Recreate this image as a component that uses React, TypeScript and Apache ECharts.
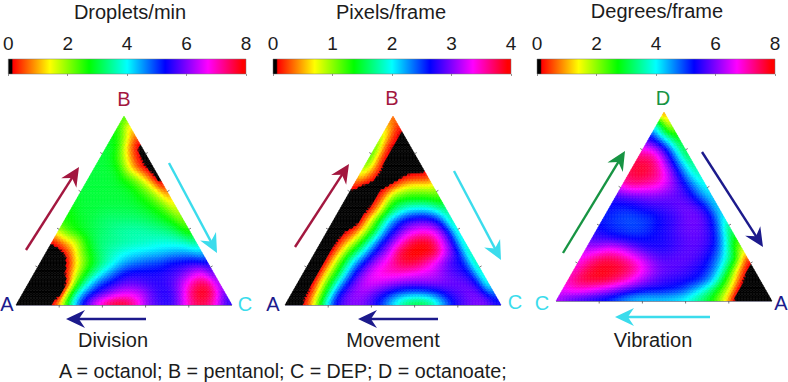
import React, { useEffect, useRef } from "react";
import * as echarts from "echarts";

const divisionValues: number[][] = [
  [2.6],
  [2.8, 1.0],
  [2.9, 2.1, 0.5],
  [3, 2.7, 0.7, 0],
  [3, 2.9, 1.8, 0.3, 0],
  [3, 3, 2.8, 1.3, 0.2, 0],
  [3, 3, 3, 2.7, 2.1, 1, 0],
  [3, 3, 3, 3, 2.9, 2.4, 1.6, 0.3],
  [2.9, 3, 3, 3, 3, 2.9, 2.6, 2, 1.0],
  [2.7, 3, 3, 3.1, 3.1, 3.1, 3, 2.8, 2.4, 1.5],
  [2.6, 2.8, 3, 3.2, 3.3, 3.3, 3.3, 3.2, 3, 2.7, 2],
  [1.7, 2.5, 2.9, 3.1, 3.3, 3.5, 3.6, 3.6, 3.5, 3.4, 3.1, 2.4],
  [0.1, 0.9, 1.6, 2.8, 3.3, 3.4, 3.5, 3.6, 3.7, 3.8, 3.8, 3.7, 3.3],
  [0, 0, 0.6, 2.1, 3, 3.5, 3.8, 4, 4.1, 4.2, 4.3, 4.4, 4.4, 4.1],
  [0, 0, 0, 1.2, 2.4, 3.2, 3.8, 4.4, 4.7, 4.9, 5, 5.3, 5.4, 5.5, 5.2],
  [0, 0, 0, 0.6, 2.3, 3.4, 4.3, 5, 5.4, 5.4, 5.4, 5.5, 5.7, 6.2, 6.7, 5.6],
  [0, 0, 0, 0, 2.3, 3.9, 5, 5.4, 5.8, 5.8, 5.6, 5.5, 5.7, 6.5, 7.5, 7.6, 6],
  [0, 0, 0, 0, 2.6, 4.5, 5.4, 5.9, 6.5, 6.7, 6.4, 5.7, 5.4, 5.9, 7.3, 7.9, 7.4, 5.6],
  [0, 0, 0, 0.1, 2.3, 4.6, 6, 7.2, 8, 8, 7.2, 6, 5.6, 5.5, 6.5, 7.5, 7.4, 6.2, 5.3],
];

const movementValues: number[][] = [
  [0.3],
  [0.7, 0.1],
  [1.1, 0.15, 0],
  [1.4, 0.1, 0, 0],
  [1.4, 0.2, 0, 0, 0],
  [1.1, 0.4, 0, 0, 0, 0],
  [0.6, 0.2, 0, 0, 0.1, 0.2, 0.2],
  [0.1, 0, 0, 0.1, 0.7, 0.95, 0.95, 0.9],
  [0, 0, 0, 0.2, 1.25, 1.4, 1.4, 1.4, 1.2],
  [0, 0, 0, 0.3, 1.3, 1.8, 2.1, 2.15, 2, 1.6],
  [0, 0, 0, 0.65, 1.55, 2.3, 2.7, 2.85, 2.85, 2.5, 1.6],
  [0, 0, 0.05, 0.7, 1.5, 2.4, 2.85, 3.25, 3.4, 3.3, 2.75, 1.7],
  [0, 0, 0.35, 1, 1.8, 2.55, 3, 3.6, 3.9, 3.9, 3.4, 2.7, 1.7],
  [0, 0, 0.5, 1.35, 2, 2.65, 3.1, 3.8, 4, 4, 3.9, 3.2, 2.65, 1.6],
  [0, 0, 0.65, 1.55, 2.3, 2.85, 3.3, 3.6, 3.85, 3.8, 3.5, 3.1, 2.75, 2.6, 1.6],
  [0, 0, 0.7, 1.5, 2.4, 3, 3.4, 3.5, 3.5, 3.4, 3.3, 3.2, 2.95, 2.8, 2.6, 1.7],
  [0, 0, 0.65, 1.6, 2.5, 3.05, 3.3, 3.2, 3.05, 2.95, 2.95, 3, 3, 2.95, 2.95, 2.75, 1.7],
  [0, 0, 0.45, 1.6, 2.65, 3.05, 3.1, 2.85, 2.6, 2.35, 2.25, 2.25, 2.4, 2.7, 2.85, 3, 2.9, 2.3],
  [0, 0, 0.3, 1.5, 2.6, 2.95, 3, 2.85, 2.5, 2, 1.5, 1.3, 1.45, 2, 2.6, 2.85, 3, 3, 2.7],
];

const vibrationValues: number[][] = [
  [0.2],
  [3.3, 1],
  [4.9, 3.3, 2.2],
  [6, 5.4, 4.2, 2.7],
  [7.2, 7.2, 6, 4.4, 2.8],
  [7.6, 7.7, 7.2, 5.8, 4.4, 3.2],
  [7.5, 7.7, 7.5, 6.9, 5.7, 4.4, 3.5],
  [7, 7.3, 7.1, 6.9, 6.3, 5.6, 4.6, 3.8],
  [5.6, 5.8, 5.9, 6, 5.9, 5.8, 5.6, 4.8, 4],
  [5.3, 5.2, 5.3, 5.5, 5.6, 5.7, 5.9, 5.8, 5.2, 4],
  [5.2, 5, 4.9, 5, 5.1, 5.4, 5.6, 5.9, 5.9, 5.3, 3.8],
  [5.3, 5.1, 5, 4.9, 5, 5.3, 5.5, 5.8, 5.9, 5.7, 4.9, 3],
  [5.6, 5.5, 5.3, 5.2, 5.2, 5.3, 5.4, 5.6, 5.8, 5.8, 5.5, 4.3, 2.4],
  [6.2, 6.3, 6.6, 6.4, 5.9, 5.5, 5.4, 5.5, 5.7, 5.8, 5.6, 5, 3.4, 1.5],
  [6.6, 7.2, 7.6, 7.5, 7.1, 6.6, 6, 5.7, 5.8, 5.8, 5.6, 5.1, 4.1, 2.8, 0.1],
  [6.8, 7.5, 7.8, 7.8, 7.7, 7.3, 6.6, 6, 5.8, 5.7, 5.5, 5.2, 4.4, 2.8, 0.5, 0],
  [7, 7.6, 7.8, 7.8, 7.5, 7, 6.4, 5.9, 5.6, 5.5, 5.4, 5.2, 4.5, 2.9, 1.1, 0, 0],
  [6.7, 6.9, 6.8, 6.5, 6.2, 5.8, 5.5, 5.3, 5.3, 5.2, 5, 4.4, 3.7, 2.7, 1.5, 0, 0, 0],
  [6.3, 5.6, 5.3, 5.1, 4.9, 4.6, 4.2, 4, 4, 4, 3.9, 3.7, 3.2, 2.6, 1.5, 0, 0, 0, 0],
];

const tickFractions = [0.2, 0.4, 0.6, 0.8];
const barTitles = ["Droplets/min", "Pixels/frame", "Degrees/frame"];
const plotTitles = ["Division", "Movement", "Vibration"];
const footnote = "A = octanol; B = pentanol; C = DEP; D = octanoate;";
const barMaxima = [8, 4, 8];
const barIntervals = [2, 1, 2];

const CRIMSON = "#a3173f";
const CYAN = "#3bdcec";
const NAVY = "#1c1a8c";
const GREEN = "#179443";
const INK = "#1c1c1c";
const FONT = "'Liberation Sans', Arial, sans-serif";

const colorStops: [number, number[]][] = [
  [0, [0, 0, 0]],
  [0.014, [0, 0, 0]],
  [0.02, [255, 0, 0]],
  [0.175, [255, 255, 0]],
  [0.34, [0, 255, 0]],
  [0.5, [0, 255, 255]],
  [0.66, [0, 0, 255]],
  [0.84, [255, 0, 255]],
  [0.985, [255, 0, 0]],
  [1, [255, 0, 0]],
];

function colorAt(t: number): string {
  const v = Math.min(1, Math.max(0, t));
  for (let k = 1; k < colorStops.length; k++) {
    const [t1, c1] = colorStops[k];
    const [t0, c0] = colorStops[k - 1];
    if (v <= t1) {
      const f = t1 === t0 ? 0 : (v - t0) / (t1 - t0);
      return `rgb(${Math.round(c0[0] + (c1[0] - c0[0]) * f)},${Math.round(c0[1] + (c1[1] - c0[1]) * f)},${Math.round(c0[2] + (c1[2] - c0[2]) * f)})`;
    }
  }
  return "rgb(255,0,0)";
}

// Shading mesh: the read lattice is refined and softened for display only.
// Off-scale (black) nodes continue the slope below zero, so that the
// black edge stays a smooth curve after softening; they still draw black.
const REFINE = 4;
const PASSES = 5;
function shadedMesh(rows: number[][]): number[][] {
  const n = rows.length - 1;
  const m = n * REFINE;
  const nb = [[-1, -1], [-1, 0], [0, -1], [0, 1], [1, 0], [1, 1]];
  const coarse = rows.map((row, i) =>
    row.map((v, j) => {
      if (v > 0) return v;
      let top = 0;
      for (const [di, dj] of nb) {
        const r = rows[i + di];
        if (r && r[j + dj] !== undefined) top = Math.max(top, r[j + dj]);
      }
      return -0.35 * top;
    })
  );
  let f: number[][] = [];
  for (let i = 0; i <= m; i++) {
    const row: number[] = [];
    const ci = Math.min(n - 1, Math.floor(i / REFINE));
    for (let j = 0; j <= i; j++) {
      const a = i / REFINE - ci;
      const cj = Math.min(ci, Math.floor(j / REFINE));
      const b = j / REFINE - cj;
      let v: number;
      if (b <= a) {
        v = coarse[ci][cj] * (1 - a) + coarse[ci + 1][cj] * (a - b) + coarse[ci + 1][cj + 1] * b;
      } else {
        v = coarse[ci][cj] * (1 - b) + coarse[ci][cj + 1] * (b - a) + coarse[ci + 1][cj + 1] * a;
      }
      row.push(v);
    }
    f.push(row);
  }
  for (let p = 0; p < PASSES; p++) {
    f = f.map((row, i) =>
      row.map((v, j) => {
        let s = v * 2, w = 2;
        for (const [di, dj] of nb) {
          const r = f[i + di];
          if (r && r[j + dj] !== undefined) { s += r[j + dj]; w += 1; }
        }
        return s / w;
      })
    );
  }
  const px = (i: number, j: number) => [(j + (m - i) / 2) / m, 1 - i / m];
  const out: number[][] = [];
  for (let i = 0; i < m; i++) {
    for (let j = 0; j <= i; j++) {
      const a = px(i, j), b = px(i + 1, j), c = px(i + 1, j + 1);
      out.push([a[0], a[1], b[0], b[1], c[0], c[1], (f[i][j] + f[i + 1][j] + f[i + 1][j + 1]) / 3]);
      if (j < i) {
        const d = px(i, j + 1);
        out.push([a[0], a[1], d[0], d[1], c[0], c[1], (f[i][j] + f[i][j + 1] + f[i + 1][j + 1]) / 3]);
      }
    }
  }
  return out;
}

function triangleCell(maxV: number) {
  return (_p: any, api: any) => {
    const a = api.coord([api.value(0), api.value(1)]);
    const b = api.coord([api.value(2), api.value(3)]);
    const c = api.coord([api.value(4), api.value(5)]);
    const col = colorAt(api.value(6) / maxV);
    return {
      type: "polygon",
      shape: { points: [a, b, c] },
      style: { fill: col, stroke: col, lineWidth: 0.5 },
      silent: true,
    };
  };
}

function tickItem(_p: any, api: any) {
  const f = api.value(0);
  const side = api.value(1);
  const pts = [
    [f, 0],
    [f / 2, f],
    [1 - f / 2, f],
  ][side];
  const dirs = [[0, 1], [-0.87, -0.5], [0.87, -0.5]][side];
  const p = api.coord(pts);
  return {
    type: "line",
    shape: { x1: p[0], y1: p[1], x2: p[0] + dirs[0] * 2.5, y2: p[1] + dirs[1] * 2.5 },
    style: { stroke: "#555", lineWidth: 0.8 },
    silent: true,
  };
}

function baseLine(_p: any, api: any) {
  const a = api.coord([0, 0]);
  const b = api.coord([1, 0]);
  return {
    type: "line",
    shape: { x1: a[0], y1: a[1] + 0.5, x2: b[0], y2: b[1] + 0.5 },
    style: { stroke: "#56566e", lineWidth: 0.6 },
    silent: true,
  };
}

function barItem(_p: any, api: any) {
  const a = api.coord([api.value(0), 0]);
  const b = api.coord([api.value(1), 1]);
  return {
    type: "rect",
    shape: { x: a[0], y: b[1], width: b[0] - a[0], height: a[1] - b[1] },
    style: {
      fill: new echarts.graphic.LinearGradient(
        0, 0, 1, 0,
        colorStops.map(([o, c]) => ({ offset: o, color: `rgb(${c.join(",")})` }))
      ),
      stroke: "#777",
      lineWidth: 0.5,
    },
    silent: true,
  };
}

function arrow(x0: number, y0: number, x1: number, y1: number, color: string, len = 19) {
  const d = Math.hypot(x1 - x0, y1 - y0);
  const ux = (x1 - x0) / d, uy = (y1 - y0) / d;
  const nx = -uy, ny = ux;
  const pt = (back: number, off: number) => [x1 - ux * back + nx * off, y1 - uy * back + ny * off];
  return [
    {
      type: "line",
      shape: { x1: x0, y1: y0, x2: x1 - ux * 10, y2: y1 - uy * 10 },
      style: { stroke: color, lineWidth: 2.4 },
      silent: true,
    },
    {
      type: "polygon",
      shape: { points: [pt(0, 0), pt(len, 9), pt(len * 0.68, 0), pt(len, -9)] },
      style: { fill: color },
      silent: true,
    },
  ];
}

function label(text: string, x: number, y: number, color: string, fontSize = 20, align = "center") {
  return {
    type: "text",
    x,
    y,
    silent: true,
    style: { text, fill: color, fontSize, fontFamily: FONT, align, verticalAlign: "middle" },
  };
}

const barLayout = [
  { left: 6, width: 240 },
  { left: 273, width: 238 },
  { left: 537, width: 238 },
];
const triLayout = [
  { left: 16, top: 116 },
  { left: 285, top: 116 },
  { left: 556, top: 112 },
];

export default function App() {
  const ref = useRef<HTMLDivElement>(null);
  useEffect(() => {
    document.body.style.margin = "0";
    const chart = echarts.init(ref.current!, undefined, { renderer: "svg" });
    const grid: any[] = [];
    const xAxis: any[] = [];
    const yAxis: any[] = [];
    const series: any[] = [];

    barLayout.forEach((b, k) => {
      grid.push({ left: b.left, width: b.width, top: 59, height: 15 });
      xAxis.push({
        gridIndex: k,
        type: "value",
        position: "top",
        min: 0,
        max: barMaxima[k],
        interval: barIntervals[k],
        splitLine: { show: false },
        axisLine: { show: false },
        axisTick: { show: true, inside: true, length: 2, lineStyle: { color: "#666", width: 0.7 } },
        axisLabel: { show: true, color: INK, fontSize: 19, fontFamily: FONT, margin: 6 },
        z: 5,
      });
      yAxis.push({ gridIndex: k, type: "value", min: 0, max: 1, show: false });
      series.push({
        type: "custom",
        xAxisIndex: k,
        yAxisIndex: k,
        clip: false,
        silent: true,
        data: [[0, barMaxima[k]]],
        renderItem: barItem,
      });
    });

    const fields = [divisionValues, movementValues, vibrationValues];
    triLayout.forEach((t, k) => {
      const idx = k + 3;
      grid.push({ left: t.left, width: 216, top: t.top, height: 189 });
      xAxis.push({ gridIndex: idx, type: "value", min: 0, max: 1, show: false });
      yAxis.push({ gridIndex: idx, type: "value", min: 0, max: 1, show: false });
      series.push({
        type: "custom",
        xAxisIndex: idx,
        yAxisIndex: idx,
        clip: false,
        silent: true,
        progressive: 0,
        data: shadedMesh(fields[k]),
        renderItem: triangleCell(barMaxima[k]),
      });
      const ticks: number[][] = [];
      [0, 1, 2].forEach((side) => tickFractions.forEach((f) => ticks.push([f, side])));
      series.push({
        type: "custom",
        xAxisIndex: idx,
        yAxisIndex: idx,
        clip: false,
        silent: true,
        data: ticks,
        renderItem: tickItem,
      });
      series.push({
        type: "custom",
        xAxisIndex: idx,
        yAxisIndex: idx,
        clip: false,
        silent: true,
        data: [[0]],
        renderItem: baseLine,
      });
    });

    const graphic: any[] = [
      label(barTitles[0], 130, 12, INK),
      label(barTitles[1], 391, 12, INK),
      label(barTitles[2], 657, 11, INK),
      label("B", 124, 99, CRIMSON),
      label("A", 7, 304, NAVY),
      label("C", 245, 304, CYAN),
      label("B", 392, 98, CRIMSON),
      label("A", 273, 304, NAVY),
      label("C", 515, 302, CYAN),
      label("D", 663, 98, GREEN),
      label("C", 542, 303, CYAN),
      label("A", 781, 303, NAVY),
      label(plotTitles[0], 113, 340, INK),
      label(plotTitles[1], 393, 340, INK),
      label(plotTitles[2], 653, 340, INK),
      label(footnote, 59, 371, INK, 19.7, "left"),
      ...arrow(26, 250, 79, 167, CRIMSON),
      ...arrow(169, 163, 217, 253, CYAN),
      ...arrow(146, 319, 66, 319, NAVY),
      ...arrow(295, 247, 349, 164, CRIMSON),
      ...arrow(454, 171, 501, 260, CYAN),
      ...arrow(438, 319, 358, 319, NAVY),
      ...arrow(563, 253, 625, 151, GREEN),
      ...arrow(702, 152, 763, 247, NAVY),
      ...arrow(710, 317, 615, 317, CYAN),
    ];

    chart.setOption({ animation: false, grid, xAxis, yAxis, series, graphic });
    return () => chart.dispose();
  }, []);
  return <div ref={ref} style={{ position: "absolute", left: 0, top: 0, width: 788, height: 382 }} />;
}
